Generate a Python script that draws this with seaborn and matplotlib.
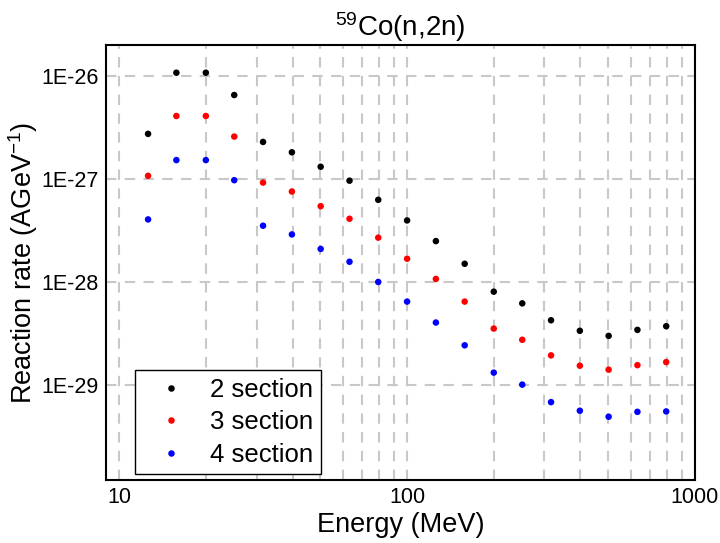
import numpy as np
import pandas as pd
import matplotlib
matplotlib.use("Agg")
import matplotlib.pyplot as plt
import seaborn as sns
from matplotlib.ticker import LogLocator, FixedLocator, NullFormatter

# ---- data ----
energy = [12.6, 15.8, 20.0, 25.1, 31.6, 39.8, 50.1, 63.1, 79.4, 100.0,
          125.9, 158.5, 200.0, 251.2, 316.2, 398.1, 501.2, 631.0, 794.3]
rate_2 = [2.73e-27, 1.07e-26, 1.07e-26, 6.5e-27, 2.28e-27, 1.81e-27, 1.31e-27, 9.6e-28, 6.26e-28, 3.95e-28,
          2.49e-28, 1.50e-28, 8.05e-29, 6.2e-29, 4.25e-29, 3.36e-29, 3.0e-29, 3.43e-29, 3.72e-29]
rate_3 = [1.07e-27, 4.07e-27, 4.07e-27, 2.57e-27, 9.2e-28, 7.53e-28, 5.43e-28, 4.1e-28, 2.69e-28, 1.68e-28,
          1.07e-28, 6.45e-29, 3.53e-29, 2.75e-29, 1.94e-29, 1.54e-29, 1.41e-29, 1.56e-29, 1.67e-29]
rate_4 = [4.04e-28, 1.52e-27, 1.52e-27, 9.7e-28, 3.51e-28, 2.89e-28, 2.09e-28, 1.57e-28, 1.0e-28, 6.45e-29,
          4.04e-29, 2.43e-29, 1.32e-29, 1.01e-29, 6.83e-30, 5.64e-30, 4.93e-30, 5.5e-30, 5.55e-30]
series = ["2 section", "3 section", "4 section"]
colors = ["black", "red", "blue"]
y_ticks = [1e-26, 1e-27, 1e-28, 1e-29]
y_tick_labels = ["1E-26", "1E-27", "1E-28", "1E-29"]
x_ticks = [10, 100, 1000]
x_tick_labels = ["10", "100", "1000"]

df = pd.DataFrame({
    "Energy": energy * 3,
    "Rate": rate_2 + rate_3 + rate_4,
    "Series": [series[0]] * len(energy) + [series[1]] * len(energy) + [series[2]] * len(energy),
})

# ---- style ----
sns.set_style("white")
plt.rcParams["font.family"] = ["Liberation Sans", "DejaVu Sans"]
plt.rcParams["mathtext.fontset"] = "custom"
plt.rcParams["mathtext.rm"] = "Liberation Sans"
plt.rcParams["mathtext.default"] = "regular"
for k in ["text.color", "axes.labelcolor", "xtick.color", "ytick.color"]:
    plt.rcParams[k] = "black"

fig = plt.figure(figsize=(7.2, 5.43), dpi=100)
ax = fig.add_axes([106 / 720, 1 - 480 / 543, (695 - 106) / 720, (480 - 44.7) / 543])

ax.set_xscale("log")
ax.set_yscale("log")
ax.set_xlim(9.0, 1000)
ax.set_ylim(1.2e-30, 2.0e-26)

# grid
grid_kw = dict(color="#c8c8c8", linestyle=(0, (5, 4)), linewidth=1.5, zorder=0)
ax.xaxis.set_major_locator(FixedLocator(x_ticks))
ax.xaxis.set_minor_locator(LogLocator(base=10, subs=np.arange(2, 10)))
ax.xaxis.set_minor_formatter(NullFormatter())
ax.set_xticklabels(x_tick_labels)
ax.yaxis.set_minor_locator(FixedLocator([]))
ax.set_yticks(y_ticks)
ax.set_yticklabels(y_tick_labels)
ax.grid(True, which="major", axis="both", **grid_kw)
ax.grid(True, which="minor", axis="x", **grid_kw)
ax.set_axisbelow(True)

sns.scatterplot(data=df, x="Energy", y="Rate", hue="Series", palette=colors,
                s=22, edgecolor="none", ax=ax, zorder=3)

ax.tick_params(axis="both", which="both", length=0, labelsize=15.5, pad=5, colors="black")
for sp in ax.spines.values():
    sp.set_visible(True)
    sp.set_color("black")
    sp.set_linewidth(1.5)

ax.set_xlabel("Energy (MeV)", fontsize=19.5, labelpad=3, color="black")
ax.set_ylabel("Reaction rate (AGeV$^{-1}$)", fontsize=19.5, labelpad=1, color="black")
ax.set_title("$^{59}$Co(n,2n)", fontsize=20, pad=6, color="black")

sns.move_legend(ax, "lower left", bbox_to_anchor=(0.05, 0.013), borderaxespad=0,
                title=None, fontsize=18.5, frameon=True, fancybox=False, framealpha=1,
                edgecolor="black", labelspacing=0.33, handletextpad=0.4,
                handlelength=2.2, borderpad=0.3, markerscale=1.0)
leg = ax.get_legend()
leg.get_frame().set_linewidth(1.0)
for t in leg.get_texts():
    t.set_color("black")

fig.savefig("out.png", dpi=100)
